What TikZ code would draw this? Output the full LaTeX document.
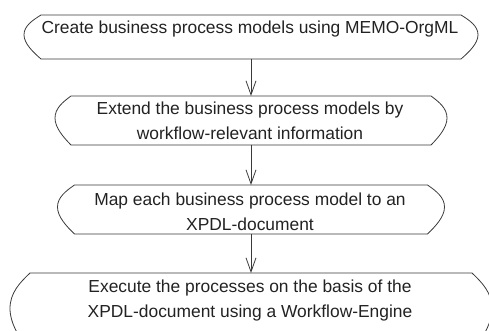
\documentclass[tikz,border=0pt]{standalone}
\usepackage{fontspec}
\setmainfont{Liberation Sans}
\usetikzlibrary{arrows.meta}
\definecolor{lncol}{HTML}{3A3A3A}
\definecolor{txcol}{HTML}{222222}
\tikzset{
  boxarea/.style={draw=none, inner sep=0pt, outer sep=0pt},
  boxline/.style={draw=lncol, line width=0.8pt, line join=round},
  flowarrow/.style={draw=lncol, line width=0.8pt, -{Straight Barb[length=14pt,width=10pt,line width=0.8pt]}},
  steptext/.style={text=txcol, font=\fontsize{17.4}{25}\selectfont, align=center, inner sep=0pt, anchor=base}
}
% #1 node name, #2 bulge d, #3 height h
\newcommand\flowoutline[3]{%
  \draw[boxline] (#1.north west) -- (#1.north east)
    .. controls ([shift={(0.5*#2,0.12*#3)}]#1.north east) and ([shift={(#2,0.25*#3)}]#1.north east) .. ([shift={(#2,0.45*#3)}]#1.north east)
    .. controls ([shift={(#2,0.65*#3)}]#1.north east) and ([shift={(0.45*#2,0.85*#3)}]#1.north east) .. (#1.south east)
    -- (#1.south west)
    .. controls ([shift={(-0.45*#2,0.85*#3)}]#1.north west) and ([shift={(-#2,0.65*#3)}]#1.north west) .. ([shift={(-#2,0.45*#3)}]#1.north west)
    .. controls ([shift={(-#2,0.25*#3)}]#1.north west) and ([shift={(-0.5*#2,0.12*#3)}]#1.north west) .. (#1.north west) -- cycle;}
\begin{document}
\begin{tikzpicture}[x=1pt,y=-1pt]
\useasboundingbox (0,0) rectangle (489,331);
\clip (0,0) rectangle (489,331);
% box areas
\node[boxarea, minimum width=420pt, minimum height=44pt] (b1) at (251,37) {};
\node[boxarea, minimum width=360pt, minimum height=49pt] (b2) at (251,120.5) {};
\node[boxarea, minimum width=353pt, minimum height=49pt] (b3) at (251,209.5) {};
\node[boxarea, minimum width=442pt, minimum height=79pt] (b4) at (251,312.5) {};
\flowoutline{b1}{17}{44}
\flowoutline{b2}{16}{49}
\flowoutline{b3}{17}{49}
\flowoutline{b4}{20}{79}
% texts (base anchor = baseline of the last line)
\node[steptext] (t1) at (250,33.5) {Create business process models using MEMO-OrgML};
\node[steptext] (t2) at (250,140) {Extend the business process models by\\workflow-relevant information};
\node[steptext] (t3) at (250,230) {Map each business process model to an\\XPDL-document};
\node[steptext] (t4) at (250,317) {Execute the processes on the basis of the\\XPDL-document using a Workflow-Engine};
% arrows
\draw[flowarrow] (b1.south) -- (b2.north);
\draw[flowarrow] (b2.south) -- (b3.north);
\draw[flowarrow] (b3.south) -- (b4.north);
\end{tikzpicture}
\end{document}
